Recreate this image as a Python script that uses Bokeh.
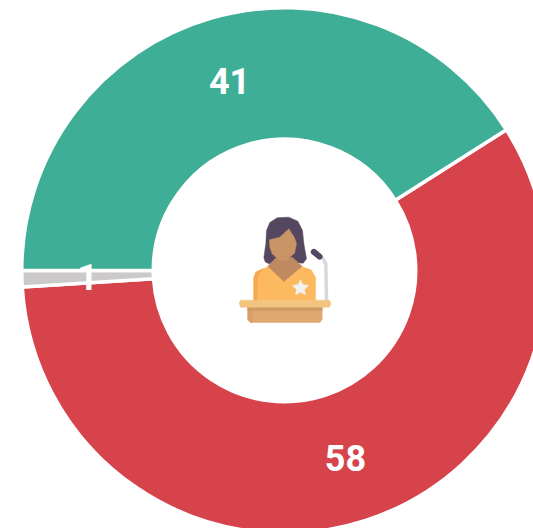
import math
from bokeh.plotting import figure
from bokeh.models import ColumnDataSource, Range1d
from bokeh.core.properties import value
from bokeh.embed import file_html
from bokeh.resources import INLINE

labels = ["58", "1", "41"]
values = [58, 1, 41]
colors = ["#d6434a", "#cbc9c9", "#3fae96"]
START_DEG = 32.4   # where the first slice begins, going clockwise
CX, CY = 284, 270  # page pixels of the ring's centre
R_OUT, R_IN = 262.75, 131.25

W, H = 533, 528
p = figure(width=W, height=H, output_backend="svg", toolbar_location=None,
           x_range=Range1d(-CX, W - CX), y_range=Range1d(CY - H, CY),
           min_border=0, outline_line_color=None, background_fill_color="white",
           border_fill_color="white")
p.xaxis.visible = False
p.yaxis.visible = False
p.grid.visible = False

total = sum(values)
starts, ends, tx, ty = [], [], [], []
a = math.radians(START_DEG)
for v in values:
    b = a - 2 * math.pi * v / total
    starts.append(b)
    ends.append(a)
    mid = (a + b) / 2
    r = (R_OUT + R_IN) / 2
    tx.append(r * math.cos(mid))
    ty.append(r * math.sin(mid))
    a = b

src = ColumnDataSource(dict(s=starts, e=ends, c=colors, x=tx, y=ty, t=labels))
p.annular_wedge(x=0, y=0, inner_radius=R_IN, outer_radius=R_OUT, start_angle="s", end_angle="e",
                fill_color="c", line_color="white", line_width=3.5, source=src)
p.text(x="x", y="y", text="t", source=src, text_color="white", text_align="center",
       text_baseline="middle", text_font=value("Roboto"), text_font_style="bold",
       text_font_size="36px")

# Icon: speaker at a podium, outlined in zoomed-crop coordinates of the picture
def ix(pts):
    return [220 + q[0] / 3 - CX for q in pts]
def iy(pts):
    return [CY - (200 + q[1] / 3) for q in pts]
def poly(pts, color):
    p.patch(ix(pts), iy(pts), fill_color=color, line_color=color, line_width=0.5)

poly([(130,172),(136,130),(138,90),(148,66),(170,52),(205,50),(232,62),(246,90),(250,130),(258,175),(248,188),(220,186),(165,186),(145,190),(134,184)], "#54475f")
poly([(100,300),(100,232),(106,215),(150,195),(190,240),(240,197),(272,208),(285,230),(285,300)], "#fdb95f")
poly([(100,300),(100,232),(106,215),(128,204),(112,228),(110,300)], "#f7a850")
poly([(142,197),(168,170),(215,170),(245,197),(190,243)], "#c08a60")
poly([(147,118),(178,110),(205,85),(222,112),(228,130),(222,158),(196,180),(178,180),(155,160),(148,140)], "#c99566")
star = [(240,237),(247,252),(264,255),(252,267),(255,283),(240,275),(225,283),(228,267),(216,255),(233,252)]
poly(star, "#f3f1ef")
stem = [(292,165),(306,172),(316,190),(318,300)]
p.line(ix(stem), iy(stem), line_color="#d9d8de", line_width=3.5)
mic = [(280,154),(297,168)]
p.line(ix(mic), iy(mic), line_color="#54475f", line_width=6, line_cap="round")
poly([(82,318),(305,318),(305,358),(298,366),(90,366),(82,358)], "#dfa872")
poly([(82,318),(96,318),(96,366),(90,366),(82,358)], "#d8a068")
poly([(82,318),(305,318),(305,330),(82,330)], "#cf9a62")
poly([(60,299),(327,299),(331,309),(327,320),(60,320),(56,309)], "#f2c480")

open("out.html", "w").write(file_html(p, INLINE))
